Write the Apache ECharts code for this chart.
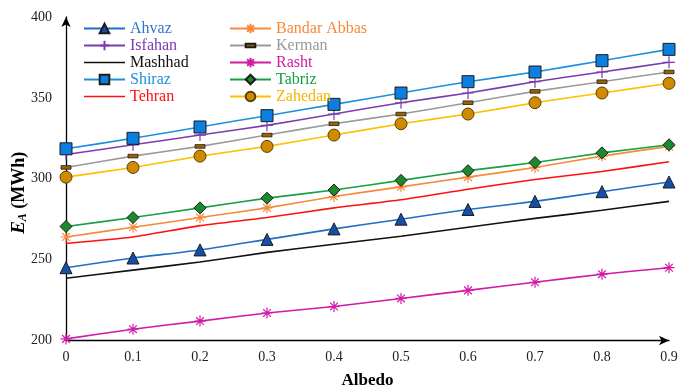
<!DOCTYPE html>
<html>
<head>
<meta charset="utf-8">
<script src="https://cdn.jsdelivr.net/npm/echarts@6/dist/echarts.min.js"></script>
<style>
  html, body { margin: 0; padding: 0; background: #fff; }
  #chart { width: 679px; height: 389px; }
</style>
</head>
<body>
<div id="chart"></div>
<script>
// Albedo values on the x axis
const albedo = [0, 0.1, 0.2, 0.3, 0.4, 0.5, 0.6, 0.7, 0.8, 0.9];

// Annual energy E_A (MWh) per city
const ahvaz       = [245, 251, 256, 262.5, 269, 275, 281, 286, 292, 298];
const bandarAbbas = [264, 270, 276, 282, 289, 295, 301, 307, 314, 320];
const isfahan     = [315, 321, 327, 333, 340, 347, 353, 360, 366, 372];
const kerman      = [307, 314, 320, 327, 334, 340, 347, 354, 360, 366];
const mashhad     = [238.5, 243.5, 248.5, 254.5, 259.5, 264.5, 270, 275.5, 280.5, 286];
const rasht       = [201, 207, 212, 217, 221, 226, 231, 236, 241, 245];
const shiraz      = [318.5, 325, 332, 339, 346, 353, 360, 366, 373, 380];
const tabriz      = [270.5, 276, 282, 288, 293, 299, 305, 310, 316, 321];
const tehran      = [260, 264, 271, 276, 282, 287, 293.5, 299.5, 304.5, 310.5];
const zahedan     = [301, 307, 314, 320, 327, 334, 340, 347, 353, 359];

const yTicks = { min: 200, max: 400, step: 50 };

const serif = '"Liberation Serif", "Times New Roman", serif';
const plusPath = 'path://M5 0 L5 10 M0 5 L10 5';
const starPath = 'path://M5 0 L5 10 M0 5 L10 5 M1.5 1.5 L8.5 8.5 M8.5 1.5 L1.5 8.5';
// flat dash inside a square box (the bare moves keep the box square)
const dashPath = 'path://M0 0 M10 10 M0 3.2 L10 3.2 L10 6.8 L0 6.8 Z';
const thinLine = 'path://M0 0 L40 0 L40 1.6 L0 1.6 Z';

function pairs(vals) { return albedo.map((a, i) => [a, vals[i]]); }

function lineSeries(name, vals, lineColor, marker) {
  const s = {
    name: name,
    type: 'line',
    data: pairs(vals),
    smooth: 0.2,
    lineStyle: { color: lineColor, width: 1.6 },
    color: lineColor,
    z: 3
  };
  if (!marker) {
    s.symbol = 'none';
    s.showSymbol = false;
  } else {
    s.symbol = marker.symbol;
    s.symbolSize = marker.size;
    s.itemStyle = marker.style;
  }
  return s;
}

const dark = '#1c1c1c';
const series = [
  lineSeries('Ahvaz', ahvaz, '#1f6fc6', { symbol: 'triangle', size: 12, style: { color: '#1450a8', borderColor: dark, borderWidth: 1 } }),
  lineSeries('Bandar Abbas', bandarAbbas, '#f7893b', { symbol: starPath, size: 11, style: { color: '#f7893b', borderColor: '#f7893b', borderWidth: 1.2 } }),
  lineSeries('Isfahan', isfahan, '#7a3db0', { symbol: plusPath, size: 12, style: { color: '#7a3db0', borderColor: '#7a3db0', borderWidth: 1.2 } }),
  lineSeries('Kerman', kerman, '#9a9a9a', { symbol: dashPath, size: 10, style: { color: '#9b6200', borderColor: dark, borderWidth: 0.8 } }),
  lineSeries('Mashhad', mashhad, '#111111', null),
  lineSeries('Rasht', rasht, '#d21aa6', { symbol: starPath, size: 11, style: { color: '#d21aa6', borderColor: '#d21aa6', borderWidth: 1.2 } }),
  lineSeries('Shiraz', shiraz, '#1b90e0', { symbol: 'rect', size: 12, style: { color: '#0a7fe0', borderColor: dark, borderWidth: 1 } }),
  lineSeries('Tabriz', tabriz, '#16a042', { symbol: 'diamond', size: 12, style: { color: '#1a8a2e', borderColor: dark, borderWidth: 1 } }),
  lineSeries('Tehran', tehran, '#ff1010', null),
  lineSeries('Zahedan', zahedan, '#ffc000', { symbol: 'circle', size: 12, style: { color: '#cf8a00', borderColor: '#5a4000', borderWidth: 1 } })
];

const textColors = {
  'Ahvaz': '#2e78cf', 'Bandar Abbas': '#f7893b', 'Isfahan': '#7a3db0', 'Kerman': '#9a9a9a',
  'Mashhad': '#111111', 'Rasht': '#d21aa6', 'Shiraz': '#1b90e0', 'Tabriz': '#16a042',
  'Tehran': '#ff1010', 'Zahedan': '#f5b400'
};
// series drawn without markers get a plain line in the legend
const plainLines = { 'Mashhad': '#111111', 'Tehran': '#ff1010' };
const legendCol1 = ['Ahvaz', 'Isfahan', 'Mashhad', 'Shiraz', 'Tehran'];
const legendCol2 = ['Bandar Abbas', 'Kerman', 'Rasht', 'Tabriz', 'Zahedan'];

function legendBlock(names, left) {
  return {
    orient: 'vertical',
    left: left,
    top: 20.5,
    itemWidth: 41,
    itemHeight: 12,
    itemGap: 1,
    padding: 0,
    symbolKeepAspect: true,
    textStyle: { fontFamily: serif, fontSize: 16, lineHeight: 15 },
    data: names.map(n => {
      const item = { name: n, textStyle: { color: textColors[n] } };
      if (plainLines[n]) {
        item.icon = thinLine;
        item.itemStyle = { color: plainLines[n] };
      }
      return item;
    })
  };
}

const chart = echarts.init(document.getElementById('chart'), null, { renderer: 'canvas' });
chart.setOption({
  animation: false,
  backgroundColor: '#ffffff',
  grid: { left: 66, right: 10, top: 17, bottom: 48.5, containLabel: false, outerBoundsMode: 'none' },
  legend: [legendBlock(legendCol1, 83), legendBlock(legendCol2, 229)],
  xAxis: {
    type: 'value',
    min: 0,
    max: 0.9,
    interval: 0.1,
    name: 'Albedo',
    nameLocation: 'middle',
    nameGap: 32,
    nameMoveOverlap: false,
    nameTextStyle: { fontFamily: serif, fontSize: 17, fontWeight: 'bold', color: '#000' },
    axisLine: { lineStyle: { color: '#000', width: 1.3 }, symbol: ['none', 'arrow'], symbolSize: [7, 10] },
    axisTick: { show: false },
    splitLine: { show: false },
    axisLabel: { fontFamily: serif, fontSize: 14, color: '#222', margin: 10,
      formatter: v => (Math.round(v * 10) / 10).toString() }
  },
  yAxis: {
    type: 'value',
    min: yTicks.min,
    max: yTicks.max,
    interval: yTicks.step,
    name: '{e|E}{a|A}{u| (MWh)}',
    nameLocation: 'middle',
    nameRotate: 90,
    nameGap: 37,
    nameMoveOverlap: false,
    nameTextStyle: {
      padding: [0, 28, 0, 0],
      rich: {
        e: { fontFamily: serif, fontSize: 19, fontWeight: 'bold', fontStyle: 'italic', color: '#000' },
        a: { fontFamily: serif, fontSize: 12, fontWeight: 'bold', fontStyle: 'italic', color: '#000', verticalAlign: 'bottom', padding: [6, 0, 0, 0] },
        u: { fontFamily: serif, fontSize: 18, fontWeight: 'bold', color: '#000' }
      }
    },
    axisLine: { show: true, lineStyle: { color: '#000', width: 1.3 }, symbol: ['none', 'arrow'], symbolSize: [7, 10] },
    axisTick: { show: false },
    splitLine: { show: false },
    axisLabel: { fontFamily: serif, fontSize: 14, color: '#222', margin: 14 }
  },
  series: series
});
</script>
</body>
</html>
